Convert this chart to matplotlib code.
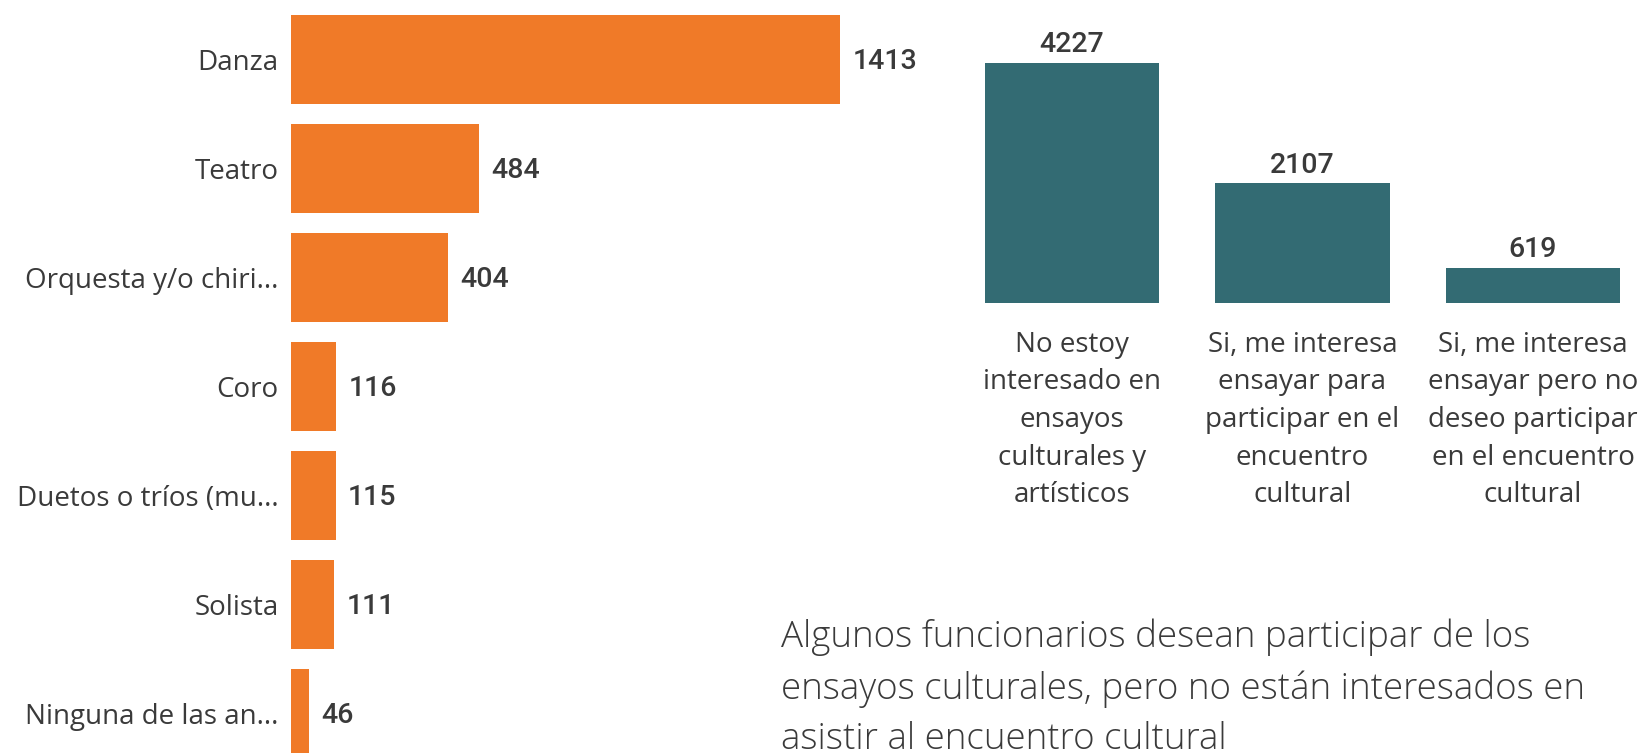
import matplotlib.pyplot as plt

# datos - izquierda (tipo de actividad)
actividades = ['Danza', 'Teatro', 'Orquesta y/o chiri...', 'Coro',
               'Duetos o tríos (mu...', 'Solista', 'Ninguna de las an...']
conteo_act = [1413, 484, 404, 116, 115, 111, 46]

# datos - derecha (interés en ensayos)
respuestas = ['No estoy\ninteresado en\nensayos\nculturales y\nartísticos',
              'Si, me interesa\nensayar para\nparticipar en el\nencuentro\ncultural',
              'Si, me interesa\nensayar pero no\ndeseo participar\nen el encuentro\ncultural']
conteo_resp = [4227, 2107, 619]

nota = ('Algunos funcionarios desean participar de los\n'
        'ensayos culturales, pero no están interesados en\n'
        'asistir al encuentro cultural')

naranja = '#F07A28'
verde = '#336B73'
gris = '#3A3A3A'
fuente = ['Open Sans', 'Noto Sans', 'DejaVu Sans']
fuente_num = ['Roboto', 'DejaVu Sans']

W, H = 1649, 753
fig = plt.figure(figsize=(W / 100, H / 100), dpi=100)

# --- barras horizontales ---
ax1 = fig.add_axes([291 / W, 0, 622 / W, 1])
y = list(range(len(actividades)))
ax1.barh(y, conteo_act, height=0.82, color=naranja)
ax1.set_xlim(0, 1600)
ax1.set_ylim(6.362, -0.546)
ax1.set_yticks(y)
ax1.set_yticklabels(actividades, fontsize=20, color=gris, family=fuente)
ax1.tick_params(axis='y', length=0, pad=9)
ax1.set_xticks([])
for s in ax1.spines.values():
    s.set_visible(False)
for i, v in enumerate(conteo_act):
    ax1.text(v + 32, i + 0.02, str(v), va='center', ha='left', fontsize=20.5,
             color=gris, family=fuente_num, fontweight='medium')

# --- barras verticales ---
ax2 = fig.add_axes([956.75 / W, 1 - 303 / H, 691.5 / W, 264 / H])
x = list(range(len(respuestas)))
ax2.bar(x, conteo_resp, width=0.755, color=verde)
ax2.set_xlim(-0.5, 2.5)
ax2.set_ylim(0, 4650)
ax2.set_xticks(x)
ax2.set_xticklabels(respuestas, fontsize=20, color=gris, family=fuente,
                    linespacing=1.46)
ax2.tick_params(axis='x', length=0, pad=20)
ax2.set_yticks([])
for s in ax2.spines.values():
    s.set_visible(False)
for i, v in enumerate(conteo_resp):
    ax2.text(i, v + 80, str(v), ha='center', va='bottom', fontsize=20.5,
             color=gris, family=fuente_num, fontweight='medium', clip_on=False)

# --- texto ---
fig.text(781 / W, 1 - 619 / H, nota, ha='left', va='top', fontsize=26.5,
         color=gris, family=fuente, fontweight='light', linespacing=1.48)

fig.savefig('out.png', dpi=100, facecolor='white')
